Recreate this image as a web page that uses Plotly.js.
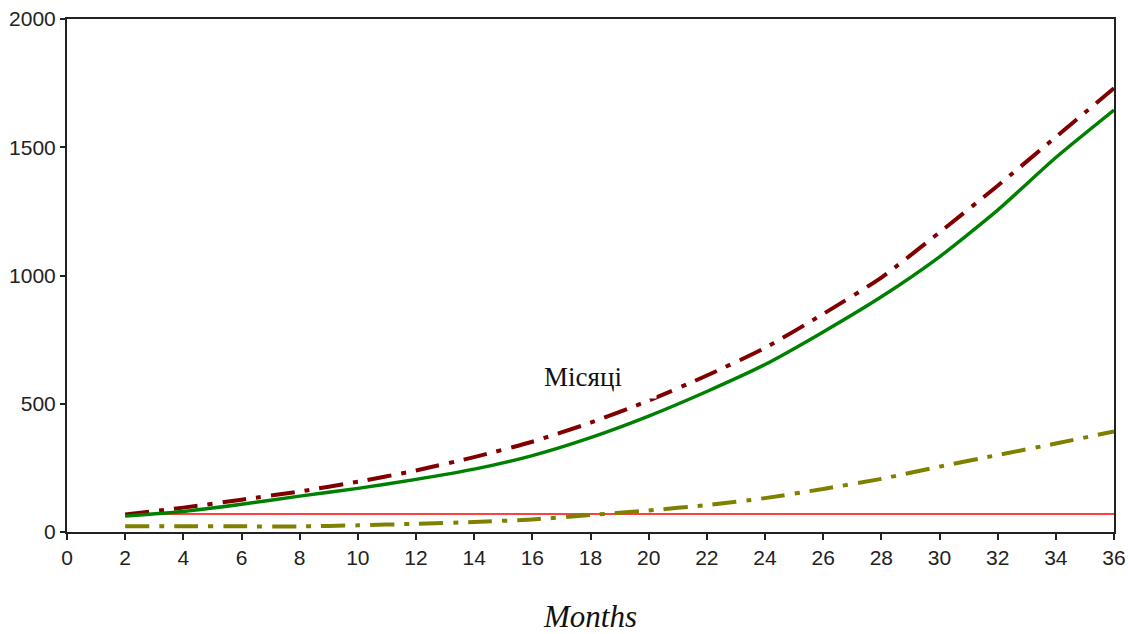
<!DOCTYPE html>
<html>
<head>
<meta charset="utf-8">
<script src="https://cdn.plot.ly/plotly-3.0.1.min.js"></script>
<style>html,body{margin:0;padding:0;background:#fff;}#chart{width:1128px;height:634px;}</style>
</head>
<body>
<div id="chart"></div>
<script>
const months = [2, 4, 6, 8, 10, 12, 14, 16, 18, 20, 22, 24, 26, 28, 30, 32, 34, 36];
const greenSeries = [62, 80, 108, 140, 170, 205, 245, 298, 368, 452, 548, 653, 780, 917, 1073, 1255, 1460, 1645];
const darkRedSeries = [68, 95, 126, 158, 196, 240, 292, 352, 426, 512, 610, 718, 850, 992, 1168, 1350, 1540, 1730];
const oliveSeries = [22, 22, 22, 22, 26, 32, 39, 49, 66, 84, 105, 132, 168, 207, 255, 300, 345, 392];
const redConst = [70, 70, 70, 70, 70, 70, 70, 70, 70, 70, 70, 70, 70, 70, 70, 70, 70, 70];
const xTicks = [0, 2, 4, 6, 8, 10, 12, 14, 16, 18, 20, 22, 24, 26, 28, 30, 32, 34, 36];
const yTicks = [0, 500, 1000, 1500, 2000];
const xTitle = 'Months';
const midLabel = 'Місяці';

const dashDot = '24px,10px,5px,10px';
const traces = [
  {x: months, y: redConst, mode: 'lines', line: {color: '#ff0000', width: 1.6}, hoverinfo: 'skip'},
  {x: months, y: oliveSeries, mode: 'lines', line: {color: '#808000', width: 4, dash: dashDot, shape: 'spline', smoothing: 0.6}},
  {x: months, y: darkRedSeries, mode: 'lines', line: {color: '#800000', width: 4, dash: dashDot, shape: 'spline', smoothing: 0.6}},
  {x: months, y: greenSeries, mode: 'lines', line: {color: '#008000', width: 3.4, shape: 'spline', smoothing: 0.6}}
];

const tickFont = {family: '"Liberation Sans", Arial, sans-serif', size: 21, color: '#222'};

const layout = {
  width: 1128, height: 634,
  margin: {l: 67, r: 14, t: 19, b: 102},
  paper_bgcolor: '#fff', plot_bgcolor: '#fff',
  showlegend: false,
  xaxis: {
    range: [0, 36], tickvals: xTicks, ticktext: xTicks.map(String),
    showgrid: false, zeroline: false,
    showline: true, linecolor: '#222', linewidth: 2, mirror: true,
    ticks: 'outside', ticklen: 6, tickwidth: 2, tickcolor: '#222',
    tickfont: tickFont,
    title: {text: xTitle, font: {family: '"Liberation Serif", "DejaVu Serif", serif', size: 31, color: '#111', style: 'italic'}, standoff: 38},
    automargin: false
  },
  yaxis: {
    range: [0, 2000], tickvals: yTicks, ticktext: yTicks.map(String),
    showgrid: false, zeroline: false,
    showline: true, linecolor: '#222', linewidth: 2, mirror: true,
    ticks: 'outside', ticklen: 5, tickwidth: 2, tickcolor: '#222',
    tickfont: tickFont,
    automargin: false
  },
  annotations: [{
    x: 17.75, y: 606, xref: 'x', yref: 'y',
    text: midLabel, showarrow: false,
    font: {family: '"Liberation Serif", "DejaVu Serif", serif', size: 27, color: '#111'},
    bgcolor: '#ffffff', width: 146, height: 42, borderpad: 0
  }]
};

Plotly.newPlot('chart', traces, layout, {displayModeBar: false, staticPlot: true});
</script>
</body>
</html>
